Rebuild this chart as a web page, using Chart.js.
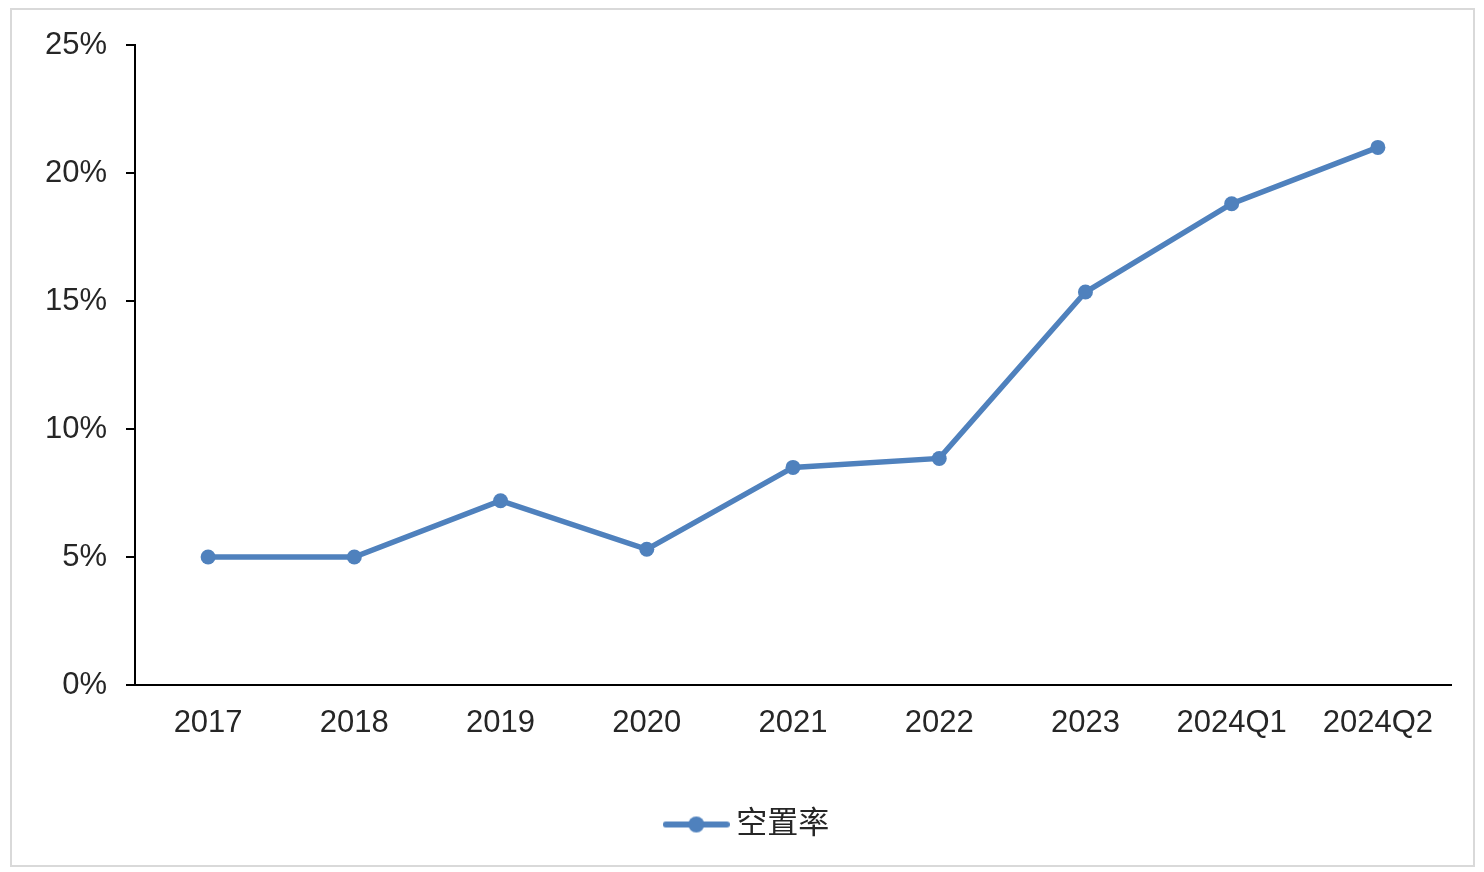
<!DOCTYPE html>
<html>
<head>
<meta charset="utf-8">
<script src="https://cdn.jsdelivr.net/npm/chart.js@4/dist/chart.umd.min.js"></script>
<style>
  html, body { margin: 0; padding: 0; background: #ffffff; }
  #wrap { position: relative; width: 1484px; height: 872px; }
  canvas { display: block; }
</style>
</head>
<body>
<div id="wrap"><canvas id="c" width="1484" height="872"></canvas></div>
<script>
const categories = ['2017', '2018', '2019', '2020', '2021', '2022', '2023', '2024Q1', '2024Q2'];
const vacancyRate = [5.0, 5.0, 7.2, 5.3, 8.5, 8.85, 15.35, 18.8, 21.0];
const seriesName = '空置率';
const yTicks = [0, 5, 10, 15, 20, 25];

const lineColor = '#4f81bd';
const textColor = '#262626';
const fontFamily = '"Liberation Sans", Arial, "Noto Sans CJK SC", sans-serif';

// legend marker: line with a dot
const marker = document.createElement('canvas');
marker.width = 67; marker.height = 18;
(function () {
  const m = marker.getContext('2d');
  m.strokeStyle = lineColor;
  m.lineWidth = 6;
  m.lineCap = 'round';
  m.beginPath(); m.moveTo(3, 9); m.lineTo(64, 9); m.stroke();
  m.fillStyle = lineColor;
  m.beginPath(); m.arc(33.5, 9, 8, 0, Math.PI * 2); m.fill();
})();

const frame = {
  id: 'frame',
  beforeDraw(chart) {
    const ctx = chart.ctx;
    ctx.save();
    ctx.fillStyle = '#ffffff';
    ctx.fillRect(0, 0, chart.width, chart.height);
    ctx.strokeStyle = '#d9d9d9';
    ctx.lineWidth = 2;
    ctx.strokeRect(11, 9, 1463, 857);
    ctx.restore();
  },
  afterLayout(chart) {
    if (chart.legend) {
      chart.legend.left += 15;
      chart.legend.right += 15;
    }
  }
};

new Chart(document.getElementById('c'), {
  type: 'line',
  data: {
    labels: categories,
    datasets: [{
      label: seriesName,
      data: vacancyRate,
      borderColor: lineColor,
      backgroundColor: lineColor,
      borderWidth: 5.5,
      pointRadius: 7.5,
      pointHoverRadius: 7.5,
      pointBackgroundColor: lineColor,
      pointBorderWidth: 0,
      pointStyle: 'circle',
      tension: 0
    }]
  },
  options: {
    responsive: false,
    animation: false,
    devicePixelRatio: 1,
    layout: { padding: { left: 20, right: 33, top: 45, bottom: 22 } },
    plugins: {
      tooltip: { enabled: false },
      legend: {
        display: true,
        position: 'bottom',
        labels: {
          usePointStyle: true,
          pointStyle: marker,
          pointStyleWidth: 49,
          boxHeight: 18,
          color: textColor,
          font: { family: fontFamily, size: 31 },
          padding: 10,
          generateLabels(chart) {
            return [{
              text: seriesName,
              pointStyle: marker,
              fillStyle: lineColor,
              strokeStyle: lineColor,
              lineWidth: 0,
              fontColor: textColor,
              hidden: false,
              datasetIndex: 0
            }];
          }
        }
      }
    },
    scales: {
      x: {
        offset: true,
        grid: { display: false, drawTicks: false },
        border: { display: true, color: '#000000', width: 2 },
        ticks: {
          color: textColor,
          font: { family: fontFamily, size: 31 },
          padding: 20,
          maxRotation: 0,
          autoSkip: false
        },
        afterFit(scale) { scale.height = 114; }
      },
      y: {
        min: 0,
        max: 25,
        afterBuildTicks(scale) { scale.ticks = yTicks.map(v => ({ value: v })); },
        grid: {
          drawOnChartArea: false,
          drawTicks: true,
          tickLength: 9,
          color: '#000000',
          lineWidth: 2
        },
        border: { display: true, color: '#000000', width: 2 },
        ticks: {
          color: textColor,
          font: { family: fontFamily, size: 31 },
          padding: 19,
          callback: (v) => v + '%'
        },
        afterFit(scale) { scale.width = 115; }
      }
    }
  },
  plugins: [frame]
});
</script>
</body>
</html>
